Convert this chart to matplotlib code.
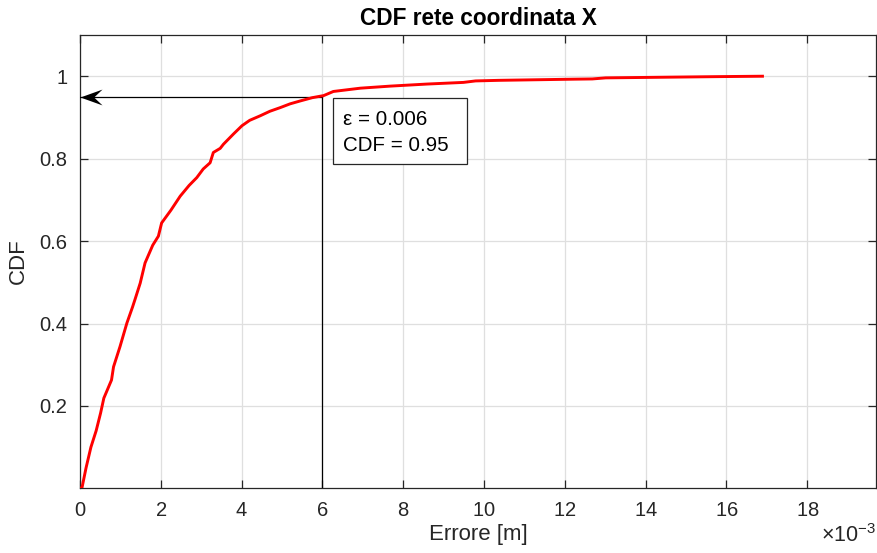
import numpy as np
import matplotlib
matplotlib.use("Agg")
import matplotlib.pyplot as plt
from matplotlib.path import Path
from matplotlib.patches import Rectangle
from matplotlib.ticker import ScalarFormatter

plt.rcParams['font.family'] = ['Liberation Sans', 'DejaVu Sans']
plt.rcParams['mathtext.fontset'] = 'custom'
plt.rcParams['mathtext.rm'] = 'Liberation Sans'
plt.rcParams['mathtext.it'] = 'Liberation Sans'

# Empirical CDF of the X-coordinate error (error in millimetres)
errore_mm = [0.00, 0.05, 0.15, 0.27, 0.40, 0.51, 0.59, 0.78, 0.83, 0.99,
             1.16, 1.30, 1.36, 1.49, 1.61, 1.80, 1.94, 2.02, 2.25, 2.48,
             2.70, 2.89, 3.05, 3.22, 3.30, 3.47, 3.55, 3.80, 4.01, 4.20,
             4.46, 4.70, 4.96, 5.20, 5.45, 5.75, 6.03, 6.27, 6.52, 6.94,
             7.68, 8.59, 9.49, 9.79, 10.36, 12.14, 12.68, 13.01, 15.78, 16.89]
cdf = [0.000, 0.002, 0.050, 0.100, 0.140, 0.183, 0.219, 0.263, 0.295, 0.344,
       0.401, 0.440, 0.458, 0.498, 0.547, 0.590, 0.612, 0.644, 0.675, 0.709,
       0.735, 0.754, 0.775, 0.790, 0.815, 0.825, 0.835, 0.860, 0.880, 0.893,
       0.904, 0.915, 0.924, 0.933, 0.940, 0.948, 0.953, 0.963, 0.966, 0.971,
       0.976, 0.981, 0.985, 0.9886, 0.990, 0.9927, 0.9934, 0.996, 0.999, 1.000]

eps = 0.006          # error at the 95th percentile [m]
cdf_level = 0.95

x_ticks_mm = [0, 2, 4, 6, 8, 10, 12, 14, 16, 18]
y_ticks = [0.2, 0.4, 0.6, 0.8, 1.0]

axis_color = '#262626'

fig = plt.figure(figsize=(8.77, 5.53), dpi=100)
ax = fig.add_axes([80 / 877, 65 / 553, 796 / 877, 453 / 553])

x = np.array(errore_mm) * 1e-3

# percentile marker: vertical drop line and arrow towards the CDF axis
ax.plot([eps, eps], [0, cdf_level], color='k', lw=0.9, zorder=3)
ax.plot([eps, 0], [cdf_level, cdf_level], color='k', lw=0.9, zorder=3)
head = Path([(0, 0), (1, 0.36), (0.62, 0), (1, -0.36), (0, 0)],
            [Path.MOVETO, Path.LINETO, Path.LINETO, Path.LINETO, Path.CLOSEPOLY])
ax.plot([0], [cdf_level], marker=head, ms=31.7, color='k', mew=0,
        clip_on=False, zorder=4)

ax.plot(x, cdf, color='red', lw=2.1, zorder=5)

# annotation box
ax.add_patch(Rectangle((eps + 0.27e-3, cdf_level - 0.164), 3.3e-3, 0.161,
                       facecolor='white', edgecolor=axis_color, lw=0.9, zorder=6))
ax.text(eps + 0.52e-3, cdf_level - 0.086,
        '\u03b5 = %g\nCDF = %g' % (eps, cdf_level),
        fontsize=14.8, color='k', va='center', ha='left',
        linespacing=1.47, zorder=7)

ax.set_xlim(0, 0.0197)
ax.set_ylim(0.001, 1.1)
ax.set_xticks(np.array(x_ticks_mm) * 1e-3)
ax.set_yticks(y_ticks)
ax.set_yticklabels(['%g' % v for v in y_ticks])

fmt = ScalarFormatter(useMathText=True)
fmt.set_powerlimits((-3, -3))
ax.xaxis.set_major_formatter(fmt)

ax.grid(True, color='#dfdfdf', lw=0.9)
ax.set_axisbelow(True)
for s in ax.spines.values():
    s.set_color(axis_color)
    s.set_linewidth(0.9)
ax.tick_params(axis='both', which='both', direction='in', length=6,
               width=0.9, color=axis_color, labelcolor=axis_color,
               labelsize=14.5, top=True, right=True, pad=9)
ax.xaxis.get_offset_text().set_fontsize(15.5)
ax.xaxis.get_offset_text().set_color(axis_color)

ax.set_title('CDF rete coordinata X', fontsize=16.3, fontweight='bold', pad=7)
ax.set_xlabel('Errore [m]', fontsize=16, color=axis_color, labelpad=3)
ax.set_ylabel('CDF', fontsize=16, color=axis_color, labelpad=8)

fig.savefig('out.png', dpi=100)
